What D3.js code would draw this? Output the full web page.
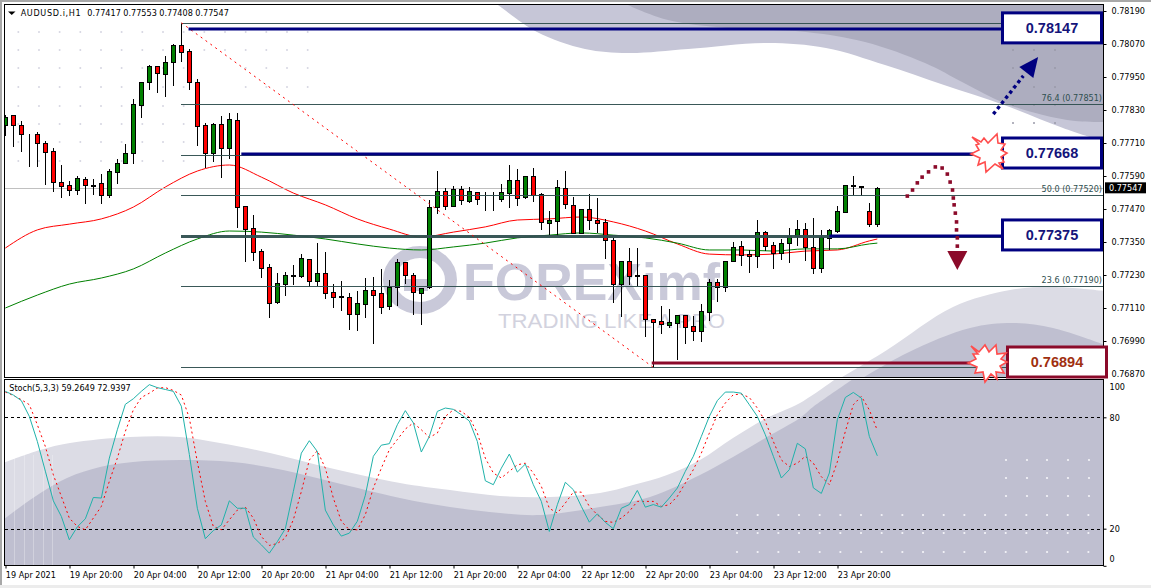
<!DOCTYPE html>
<html><head><meta charset="utf-8">
<script src="https://cdn.jsdelivr.net/npm/d3@7/dist/d3.min.js"></script>
<style>
html,body{margin:0;padding:0;background:#fff;overflow:hidden}
svg{display:block}
text{font-family:"DejaVu Sans";font-stretch:condensed;font-size:9px;fill:#000}
</style></head><body><svg id="c" width="1151" height="588"></svg>
<script>
// Prices are in points (1e-5). Bars are hourly.
const opens=[77775,77812,77775,77743,77743,77710,77681,77568,77557,77539,77579,77559,77564,77521,77605,77637,77674,77848,77932,77990,77961,78005,78066,78045,77932,77775,77674,77779,77692,77794,77481,77401,77317,77259,77132,77197,77230,77226,77288,77208,77237,77168,77154,77150,77088,77125,77175,77165,77117,77186,77277,77230,77165,77186,77477,77535,77481,77543,77499,77532,77508,77508,77506,77528,77575,77514,77590,77524,77419,77426,77546,77485,77383,77470,77430,77423,77357,77197,77281,77230,77230,77070,77063,77048,77055,77085,77045,77026,77095,77205,77186,77281,77335,77306,77299,77386,77339,77310,77346,77372,77397,77332,77255,77365,77390,77459,77557,77552,77463,77417];
const closes=[77805,77775,77743,77741,77710,77677,77568,77554,77539,77583,77557,77555,77521,77608,77637,77674,77852,77932,77990,77965,78005,78066,78041,77932,77772,77674,77779,77692,77797,77477,77397,77314,77255,77128,77201,77230,77228,77292,77208,77237,77165,77150,77150,77088,77128,77175,77157,77114,77186,77277,77230,77168,77183,77477,77535,77481,77543,77503,77535,77506,77506,77506,77532,77575,77510,77590,77521,77423,77430,77550,77488,77383,77470,77430,77419,77357,77197,77281,77226,77226,77070,77059,77052,77059,77085,77041,77026,77099,77205,77186,77281,77332,77303,77299,77386,77335,77310,77346,77372,77397,77332,77255,77368,77394,77463,77557,77554,77550,77415,77547];
const highs=[77817,77815,77792,77746,77755,77721,77695,77634,77575,77594,77590,77583,77601,77619,77655,77710,77874,77935,77997,77994,78030,78074,78147,78055,77946,77786,77786,77812,77823,77823,77481,77452,77328,77274,77241,77245,77270,77310,77292,77350,77317,77201,77212,77168,77175,77223,77226,77255,77215,77292,77277,77241,77183,77506,77612,77550,77557,77557,77554,77535,77535,77535,77564,77634,77619,77590,77623,77532,77466,77579,77612,77517,77474,77528,77514,77437,77368,77285,77332,77332,77234,77074,77121,77110,77085,77088,77085,77128,77219,77219,77281,77354,77357,77325,77434,77394,77354,77365,77405,77434,77423,77441,77397,77401,77485,77557,77594,77554,77495,77553];
const lows=[77739,77699,77681,77626,77626,77561,77535,77514,77521,77524,77492,77524,77492,77514,77564,77637,77637,77805,77906,77895,77881,77921,78008,77906,77703,77623,77645,77586,77655,77405,77281,77285,77223,77077,77128,77157,77197,77223,77190,77194,77146,77114,77103,77034,77030,77077,76983,77092,77106,77121,77201,77088,77052,77183,77455,77470,77481,77488,77495,77488,77466,77466,77499,77477,77485,77510,77499,77397,77379,77375,77474,77383,77383,77397,77386,77292,77132,77081,77197,77194,77008,76895,77019,77041,76925,76983,76994,76990,77066,77135,77172,77281,77266,77241,77259,77321,77255,77288,77277,77339,77285,77237,77241,77325,77386,77459,77524,77521,77408,77408];
const maBars=[0,4,8,12,16,20,24,28,32,36,40,44,48,52,56,60,64,68,72,76,80,84,88,92,96,100,104,108,109];
const maRed=[77328,77394,77415,77434,77477,77550,77608,77630,77586,77528,77485,77434,77397,77368,77386,77405,77430,77434,77441,77423,77390,77343,77306,77303,77306,77317,77321,77354,77361];
const maGreen=[77110,77157,77197,77219,77252,77310,77361,77390,77386,77375,77361,77343,77328,77321,77332,77346,77365,77375,77383,77375,77365,77346,77321,77321,77317,77325,77325,77343,77346];
const stochMain=[94,92,89,80.5,67,51,35,26.6,14,21,25.3,36.8,36.5,58,73.3,87,90,94,97.6,96,95,94,86,60,31,14.6,19,22,35,31,31,15.5,11.3,6.8,13,20,40,60.7,67.4,61.6,30,22,16,17.6,24,38,59,65,65.8,76,83.6,77,61.3,69.7,83.2,85,84.3,81.4,78,67,45.8,43.7,52.6,60.2,50.5,54.8,43.7,34.7,18.5,32.9,45,41,32,23.5,28,23.4,20,31,33,40.6,31.6,33,31.6,36.5,41.9,50.9,59,69.7,80.5,89,93.6,93.6,93,86.8,80.5,70.6,59,47.3,51.8,66,63,42,39,50,78.7,90.7,93.4,90.4,69.7,59.2649];
const stochSignal=[93.6,91.8,89.5,86.8,76,64.3,49,37.4,25.7,21.2,19.4,25.7,32,45.5,58,72.4,84,90.7,93,95.8,96,94.5,92,79.6,56,34.7,21.2,19.4,24.8,30,31.6,25.7,15.8,11,12,15,24.8,40,57,62,52.6,36.5,24,19.4,19.4,27.5,41.9,52.6,62.5,68,73.7,77,73.3,69.2,71.5,80.5,84,83.2,80,71.5,58,50,47.3,50.9,54.4,55.3,50,42.8,31,28.4,33.8,39.7,39.7,32,27.5,23.9,23.4,25.7,29.3,34.7,34.7,34.7,32,32.9,37.4,44.6,51.8,60.7,71.5,81.4,87.7,92.2,92.5,90.7,85,77.8,67,57,53.5,55.3,59,55.3,48,43.7,56,72.4,86.8,91.3,84,72.9397];
const priceTicks=[78190,78070,77950,77830,77710,77590,77470,77350,77230,77110,76990,76870];
const timeBars=[0,8,16,24,32,40,48,56,64,72,80,88,96,104];
const timeLabels=["19 Apr 2021","19 Apr 20:00","20 Apr 04:00","20 Apr 12:00","20 Apr 20:00","21 Apr 04:00","21 Apr 12:00","21 Apr 20:00","22 Apr 04:00","22 Apr 12:00","22 Apr 20:00","23 Apr 04:00","23 Apr 12:00","23 Apr 20:00"];
const fibLevels=[78147,77851,77668,77520,77373,77190,76894];
const fibLabels=[null,"76.4 (0.77851)",null,"50.0 (0.77520)",null,"23.6 (0.77190)",null];
const boxLevels=[78125,77670,77372,76910];
const boxTexts=["0.78147","0.77668","0.77375","0.76894"];
const lineStartBars=[22.9,29.5,103,80.8];
const swingBars=[22,81];
const swingPrices=[78147,76894];
const upArrowBars=[123.5,127.25];
const upArrowPrices=[77815,77954];
const upHeadBars=[129.1,126.75,128.5];
const upHeadPrices=[78023,77986,77946];
const downArrowBars=[112.75,113.4,114,114.6,115.4,116.25,117.1,117.75,118.1,118.4,118.5,118.6,118.75,118.9,118.9,119,119];
const downArrowPrices=[77517,77539,77565,77586,77605,77623,77619,77597,77568,77539,77510,77485,77455,77423,77394,77365,77335];
const downHeadBars=[117.75,120.25,119];
const downHeadPrices=[77317,77317,77248];
const ohlcHeader=["0.77417","0.77553","0.77408","0.77547"];
const stochHeader=["59.2649","72.9397"];
const lastPrice=77547;

const svg=d3.select("#c");
const x=d3.scaleLinear().domain([0,109]).range([5.33,877.33]);
const y=d3.scaleLinear().domain([78190,76870]).range([11,374]);
const s=d3.scaleLinear().domain([0,100]).range([565.8,380.2]);
const px=v=>Math.floor(x(v))+.5, py=v=>Math.round(y(v))+.5;
const NAVY="#000080", MAROON="#8b0a2a", SLATE="#2f4f4f";
const TF='"DejaVu Sans"';

// window chrome
svg.append("rect").attr("width",1151).attr("height",2).attr("fill","#a8a8a8");
svg.append("rect").attr("width",2).attr("height",588).attr("fill","#a8a8a8");
svg.append("rect").attr("y",585).attr("width",1151).attr("height",3).attr("fill","#ececec");

const defs=svg.append("defs");
defs.append("clipPath").attr("id","mainClip").append("rect").attr("x",5).attr("y",5).attr("width",1098).attr("height",372);
defs.append("clipPath").attr("id","stochClip").append("rect").attr("x",5).attr("y",380).attr("width",1098).attr("height",185);

// watermark
const curve=d3.line().curve(d3.curveCatmullRom);
const wm=svg.append("g").attr("clip-path","url(#mainClip)");
const closed=(pts,tail)=>curve(pts)+tail.map(p=>"L"+p).join("")+"Z";
wm.append("path").attr("fill","#c6c6d7").attr("d",closed([[495,3],[498,5],[537,32],[585,49],[628,53],[688,49],[767,43],[826,48],[885,65],[944,85],[1004,105],[1063,128],[1105,142]],[[1105,3]]));
wm.append("path").attr("fill","#adadbf").attr("d",closed([[625,3],[628,5],[668,20],[727,28],[806,32],[865,42],[925,63],[964,83],[1004,103],[1043,115],[1075,121],[1105,122]],[[1105,3]]));
wm.append("path").attr("fill","#dcdce5").attr("d",closed([[820,390],[887,350],[953,307],[1010,290],[1053,287],[1105,291]],[[1105,390]]));
wm.append("path").attr("fill","#bfbfd0").attr("d",closed([[843,390],[907,353],[970,328],[1013,323],[1053,328],[1105,345]],[[1105,390]]));
const wm2=svg.append("g").attr("clip-path","url(#stochClip)");
wm2.append("path").attr("fill","#dcdce5").attr("d",closed([[3,463],[40,450],[70,443],[130,437],[180,437],[220,443],[270,453],[330,468],[400,483],[450,490],[500,496],[550,497],[600,493],[633,485],[667,475],[700,460],[733,438],[767,418],[800,403],[845,372]],[[1105,372],[1105,567],[3,567]]));
wm2.append("path").attr("fill","#bfbfd0").attr("d",closed([[3,520],[33,498],[67,478],[100,467],[133,462],[180,460],[233,462],[283,470],[333,482],[400,498],[450,507],[500,513],[540,515],[600,507],[650,497],[700,475],[733,457],[767,437],[800,418],[813,407],[862,373]],[[1105,373],[1105,567],[3,567]]));
[14,24,33,43,52].forEach(v=>wm2.append("line").attr("x1",v+.5).attr("x2",v+.5).attr("y1",455).attr("y2",566).attr("stroke","#fff").attr("stroke-opacity",.28));

// logo
const logo=svg.append("g").attr("fill","#c9c9d9");
logo.append("ellipse").attr("cx",420).attr("cy",280).attr("rx",31).attr("ry",28).attr("fill","none").attr("stroke","#c9c9d9").attr("stroke-width",12);
logo.append("rect").attr("x",404).attr("y",279).attr("width",24).attr("height",12);
logo.append("text").attr("x",463).attr("y",300).attr("textLength",257).attr("lengthAdjust","spacingAndGlyphs").style("font-family","Liberation Sans").style("font-stretch","normal").style("font-weight","bold").style("font-size","52px").style("fill","#c9c9d9").text("FOREXimf");
logo.append("text").attr("x",498).attr("y",328).attr("textLength",227).attr("lengthAdjust","spacingAndGlyphs").style("font-family","Liberation Sans").style("font-stretch","normal").style("font-size","21px").style("fill","#d2d2de").text("TRADING LIKE A PRO");

// dot grids
const dots=svg.append("g");
function dotGrid(xs,ys,col,r){xs.forEach(a=>ys.forEach(b=>dots.append("circle").attr("cx",a).attr("cy",b).attr("r",r).attr("fill",col)));}
const gx=n=>18.3+20.67*n;
dotGrid(d3.range(9).map(gx),[32,50,68,87,106,124,142,161],"#d6d6e2",1);
dotGrid(d3.range(9,15).map(gx),[32,50],"#d6d6e2",1);
dotGrid(d3.range(11,15).map(gx),[68,87],"#d6d6e2",1);
dotGrid([1013,1034,1055],[50,68,87,105,123],"#9a9aa8",1);
dotGrid([1006,1027,1047,1068,1089],[460,478,496],"#f4f4f8",1.1);
dotGrid(d3.range(18).map(n=>737+20.67*n),[515,533,552],"#f4f4f8",1.1);

// MAs
const mainG=svg.append("g").attr("clip-path","url(#mainClip)");
const maLine=d3.line().curve(d3.curveMonotoneX).x((d,i)=>x(maBars[i])).y(d=>y(d));
mainG.append("path").datum(maRed).attr("d",maLine).attr("fill","none").attr("stroke","#f00").attr("stroke-width",1);
mainG.append("path").datum(maGreen).attr("d",maLine).attr("fill","none").attr("stroke","#008000").attr("stroke-width",1);

// last price line
mainG.append("line").attr("x1",5).attr("x2",1103).attr("y1",py(lastPrice)).attr("y2",py(lastPrice)).attr("stroke","#c0c0c0");

// candles
const bars=mainG.selectAll("g.k").data(d3.range(opens.length)).join("g").attr("class","k").attr("shape-rendering","crispEdges");
bars.append("line").attr("x1",px).attr("x2",px).attr("y1",i=>py(highs[i])).attr("y2",i=>py(lows[i])).attr("stroke","#000");
bars.append("rect").attr("x",i=>px(i)-2).attr("width",4)
 .attr("y",i=>py(Math.max(opens[i],closes[i])))
 .attr("height",i=>Math.max(0,py(Math.min(opens[i],closes[i]))-py(Math.max(opens[i],closes[i]))))
 .attr("fill",i=>closes[i]>=opens[i]?"#008000":"#f00").attr("stroke","#000");

// fib
mainG.selectAll("line.f").data(fibLevels).join("line").attr("class","f").attr("x1",x(swingBars[0])).attr("x2",1103)
 .attr("y1",d=>py(d)).attr("y2",d=>py(d)).attr("stroke",SLATE).attr("stroke-width",(d,i)=>i==4?2.6:1).attr("stroke-opacity",.95).attr("shape-rendering","crispEdges");
svg.selectAll("text.fl").data(fibLevels).join("text").attr("class","fl").attr("x",1102).attr("y",d=>py(d)-4).attr("text-anchor","end").style("fill",SLATE)
 .text((d,i)=>fibLabels[i]||"");
mainG.append("line").attr("x1",x(swingBars[0])).attr("x2",x(swingBars[1])).attr("y1",y(swingPrices[0])).attr("y2",y(swingPrices[1])).attr("stroke","#f00").attr("stroke-dasharray","2,4");

// level lines
boxLevels.forEach((lv,i)=>{
 mainG.append("line").attr("x1",x(lineStartBars[i])).attr("x2",1003).attr("y1",y(lv)).attr("y2",y(lv)).attr("stroke",i==3?MAROON:NAVY).attr("stroke-width",3);
});

// price axis
const axG=svg.append("g").attr("transform","translate(1103.5,0)").call(d3.axisRight(y).tickValues(priceTicks).tickSize(3).tickPadding(5).tickFormat(d=>(d/1e5).toFixed(5)));
axG.select(".domain").attr("d","M0,4V378").attr("stroke","#000");
axG.selectAll("text").style("font-size","9px").style("font-family",TF);

// time axis
const tAx=svg.append("g").attr("transform","translate(0,565.5)").call(d3.axisBottom(x).tickValues(timeBars).tickSize(3).tickPadding(2).tickFormat((d,i)=>timeLabels[i]));
tAx.select(".domain").remove();
tAx.selectAll("line").attr("transform",d=>`translate(${px(d)-x(d)},0)`);
tAx.selectAll("text").attr("text-anchor","start").style("font-size","9px").style("font-family",TF).attr("dy","0.82em");

// stoch
const sG=svg.append("g").attr("clip-path","url(#stochClip)");
[80,20].forEach(v=>sG.append("line").attr("x1",5).attr("x2",1103).attr("y1",Math.round(s(v))+.5).attr("y2",Math.round(s(v))+.5).attr("stroke","#000").attr("stroke-dasharray","3,3"));
const sLine=d3.line().x((d,i)=>x(i)).y(d=>s(d));
sG.append("path").datum(stochSignal).attr("d",sLine).attr("fill","none").attr("stroke","#f00").attr("stroke-dasharray","2,3");
sG.append("path").datum(stochMain).attr("d",sLine).attr("fill","none").attr("stroke","#20b2aa");
const sAx=svg.append("g").attr("transform","translate(1103.5,0)").call(d3.axisRight(s).tickValues([100,80,20,0]).tickSize(3).tickPadding(3).tickFormat(d3.format("d")));
sAx.select(".domain").attr("d","M0,379V565").attr("stroke","#000");
sAx.selectAll("text").style("font-size","9px").style("font-family",TF).attr("dy",d=>d==100?"1.0em":d==0?"-0.5em":"0.32em");
sAx.selectAll("line").attr("stroke-opacity",d=>(d==100)?0:1);

// panel frames
svg.append("rect").attr("x",4.5).attr("y",4.5).attr("width",1099).attr("height",373).attr("fill","none").attr("stroke","#000");
svg.append("rect").attr("x",4.5).attr("y",379.5).attr("width",1099).attr("height",186).attr("fill","none").attr("stroke","#000");

// headers
svg.append("path").attr("d","M8,11.5H15.5L11.75,15Z").attr("fill","#000");
svg.append("text").attr("x",20.7).attr("y",15.5).attr("textLength",60).text("AUDUSD.i,H1");
ohlcHeader.forEach((t,i)=>svg.append("text").attr("x",87.3+36*i).attr("y",15.5).attr("textLength",33.5).text(t));
svg.append("text").attr("x",9.3).attr("y",391).attr("textLength",121.4).text("Stoch(5,3,3) "+stochHeader.join(" "));

// last price tag
svg.append("rect").attr("x",1105).attr("y",y(lastPrice)-5.5).attr("width",41).attr("height",11).attr("fill","#000");
svg.append("text").attr("x",1109).attr("y",y(lastPrice)+3.2).style("fill","#fff").text((lastPrice/1e5).toFixed(5));

// dotted arrows
const dirArrow=(col,pts,hb,hp)=>{
 svg.append("polygon").attr("points",hb.map((b,i)=>[x(b),y(hp[i])].join(",")).join(" ")).attr("fill",col);
 return pts;
};
const upPath=d3.line()(upArrowBars.map((b,i)=>[x(b),y(upArrowPrices[i])]));
svg.append("path").attr("d",upPath).attr("fill","none").attr("stroke",NAVY).attr("stroke-width",3.4).attr("stroke-dasharray","3.4,3.2");
dirArrow(NAVY,0,upHeadBars,upHeadPrices);
svg.selectAll("rect.dd").data(downArrowBars).join("rect").attr("class","dd").attr("x",(d,i)=>x(d)-1.8).attr("y",(d,i)=>y(downArrowPrices[i])-1.8).attr("width",3.6).attr("height",3.6).attr("fill",MAROON);
dirArrow(MAROON,0,downHeadBars,downHeadPrices);

// boxes
const boxX=[1001,1001,1001,1006];
boxLevels.forEach((lv,i)=>{
 const col=i==3?MAROON:NAVY, cy=y(lv)-1;
 svg.append("rect").attr("x",boxX[i]+1.5).attr("y",cy-15).attr("width",99).attr("height",30).attr("fill","#fff").attr("stroke",col).attr("stroke-width",3);
 svg.append("text").attr("x",boxX[i]+51).attr("y",cy+5).attr("text-anchor","middle").style("font-family","Liberation Sans").style("font-stretch","normal").style("font-weight","bold").style("font-size","14.5px").style("fill",i==3?"#a03010":"#14147a").text(boxTexts[i]);
});

// bursts
const burst=[[-18,-16],[-9,-11],[-6,-15],[-2,-10],[7,-19],[8,-10],[15,-9],[11,-3],[17,0],[11,4],[14,9],[9,10],[13,16],[5,11],[-4,19],[-5,9],[-12,12],[-10,5],[-19,1],[-11,-3],[-14,-8],[-11,-9]];
const burst2=[[-17,-16],[-9,-10],[-3,-17],[1,-10],[8,-17],[9,-8],[18,-9],[13,-3],[19,0],[12,4],[16,11],[8,10],[9,17],[3,12],[-3,20],[-5,10],[-13,11],[-11,5],[-20,1],[-12,-3],[-15,-8],[-10,-8]];
[[990,153,burst],[988,362,burst2]].forEach(([cx,cy,b])=>{
 svg.append("polygon").attr("points",b.map(p=>[cx+p[0],cy+p[1]].join(",")).join(" ")).attr("fill","#fff").attr("stroke","#ff4d4d").attr("stroke-width",1.6);
});
</script></body></html>
